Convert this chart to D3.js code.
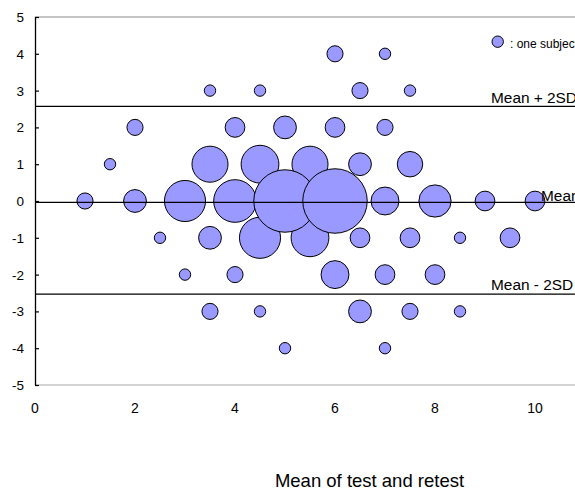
<!DOCTYPE html>
<html>
<head>
<meta charset="utf-8">
<script src="https://cdn.jsdelivr.net/npm/d3@7"></script>
<style>
  html, body { margin: 0; padding: 0; background: #fff; overflow: hidden; }
  svg { display: block; font-family: "Liberation Sans", Arial, sans-serif; }
</style>
</head>
<body>
<svg id="chart" width="575" height="489"></svg>
<script>
// ---- data ----
// mean of test and retest (x), difference (y), number of subjects (count)
const meanValues = [6, 7,
  3.5, 4.5, 6.5, 7.5,
  2, 4, 5, 6, 7,
  1.5, 3.5, 4.5, 5.5, 6.5, 7.5,
  1, 2, 3, 4, 5, 6, 7, 8, 9, 10,
  2.5, 3.5, 4.5, 5.5, 6.5, 7.5, 8.5, 9.5,
  3, 4, 6, 7, 8,
  3.5, 4.5, 6.5, 7.5, 8.5,
  5, 7];
const diffValues = [4, 4,
  3, 3, 3, 3,
  2, 2, 2, 2, 2,
  1, 1, 1, 1, 1, 1,
  0, 0, 0, 0, 0, 0, 0, 0, 0, 0,
  -1, -1, -1, -1, -1, -1, -1, -1,
  -2, -2, -2, -2, -2,
  -3, -3, -3, -3, -3,
  -4, -4];
const subjectCounts = [2, 1,
  1, 1, 2, 1,
  2, 3, 4, 3, 2,
  1, 10, 11, 10, 4, 5,
  2, 4, 13, 14, 30, 32, 6, 8, 3, 3,
  1, 4, 13, 11, 3, 3, 1, 3,
  1, 2, 6, 3, 3,
  2, 1, 4, 2, 1,
  1, 1];
const refLines = [
  { name: "Mean + 2SD", value: 2.57, labelX: 9.12, dy: -3 },
  { name: "Mean", value: -0.04, labelX: 10.12, dy: -1 },
  { name: "Mean - 2SD", value: -2.53, labelX: 9.12, dy: -4 }
];
const xTicks = [0, 2, 4, 6, 8, 10];
const yTicks = [5, 4, 3, 2, 1, 0, -1, -2, -3, -4, -5];
const xTitle = "Mean of test and retest";
const legendText = ": one subject";

// ---- drawing ----
const svg = d3.select("#chart");
const W = 575, H = 489;
const x = d3.scaleLinear().domain([0, 10]).range([35, 535]);
const y = d3.scaleLinear().domain([-5, 5]).range([385, 17]);
const r = d3.scaleSqrt().domain([0, 1]).range([0, 5.7]);
const fill = "#9999ff";

// top and bottom frame lines
svg.append("line").attr("x1", x(0)).attr("x2", W).attr("y1", y(5)).attr("y2", y(5))
  .attr("stroke", "#8a8a8a").attr("stroke-width", 1.2);
svg.append("line").attr("x1", x(0)).attr("x2", W).attr("y1", y(-5)).attr("y2", y(-5))
  .attr("stroke", "#a8a8a8").attr("stroke-width", 1.2);

// bubbles (small first, large on top)
const pts = meanValues.map((m, i) => ({ x: m, y: diffValues[i], n: subjectCounts[i] }))
  .sort((a, b) => a.n - b.n);
svg.append("g").selectAll("circle").data(pts).join("circle")
  .attr("cx", d => x(d.x)).attr("cy", d => y(d.y)).attr("r", d => r(d.n))
  .attr("fill", fill).attr("stroke", "#000").attr("stroke-width", 1);

// reference lines
const ref = svg.append("g");
refLines.forEach(l => {
  ref.append("line").attr("x1", x(0)).attr("x2", W)
    .attr("y1", y(l.value)).attr("y2", y(l.value))
    .attr("stroke", "#000").attr("stroke-width", 1.3);
  ref.append("text").attr("x", x(l.labelX)).attr("y", y(l.value) + l.dy)
    .attr("font-size", 15.4).attr("fill", "#000").text(l.name);
});

// y axis (inward ticks)
const yAxis = d3.axisRight(y).tickValues(yTicks).tickSize(4).tickFormat("");
const ya = svg.append("g").attr("transform", `translate(${x(0)},0)`).call(yAxis);
ya.select(".domain").attr("stroke", "#000").attr("stroke-width", 1.3)
  .attr("d", `M0.5,${y(5)}V${y(-5)}`);
ya.selectAll(".tick line").attr("stroke", "#000").attr("stroke-width", 1.2);
svg.append("g").selectAll("text").data(yTicks).join("text")
  .attr("x", 24).attr("y", d => y(d) + 5).attr("text-anchor", "end")
  .attr("font-size", 13.5).attr("fill", "#000").text(d => d);

// x tick labels
svg.append("g").selectAll("text").data(xTicks).join("text")
  .attr("x", d => x(d)).attr("y", 413).attr("text-anchor", "middle")
  .attr("font-size", 14).attr("fill", "#000").text(d => d);

// x title
svg.append("text").attr("x", 369.5).attr("y", 487).attr("text-anchor", "middle")
  .attr("font-size", 18.5).attr("fill", "#000").text(xTitle);

// legend
svg.append("circle").attr("cx", 497.7).attr("cy", 41.7).attr("r", r(1))
  .attr("fill", fill).attr("stroke", "#000").attr("stroke-width", 1);
svg.append("text").attr("x", 510).attr("y", 48).attr("font-size", 12)
  .attr("fill", "#000").text(legendText);
</script>
</body>
</html>
